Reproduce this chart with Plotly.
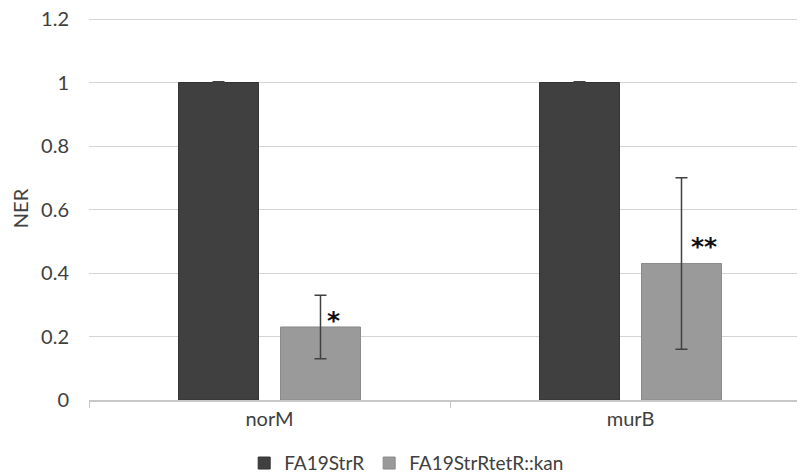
import plotly.graph_objects as go

categories = ["norM", "murB"]
strr_vals = [1.0, 1.0]
strr_err = [0.002, 0.002]
kan_vals = [0.23, 0.43]
kan_err = [0.10, 0.27]
sig_labels = ["*", "**"]
sig_y = [0.258, 0.49]
y_ticks = [0, 0.2, 0.4, 0.6, 0.8, 1, 1.2]

fig = go.Figure()
fig.add_trace(go.Bar(
    x=categories, y=strr_vals, name="FA19StrR",
    marker=dict(color="#404040", line=dict(color="#333333", width=1)),
    error_y=dict(type="data", array=strr_err, color="#404040", thickness=1.5, width=6),
))
fig.add_trace(go.Bar(
    x=categories, y=kan_vals, name="FA19StrRtetR::kan",
    marker=dict(color="#9a9a9a", line=dict(color="#8a8a8a", width=1)),
    error_y=dict(type="data", array=kan_err, color="#404040", thickness=1.5, width=6),
))

for i, (c, lab) in enumerate(zip(categories, sig_labels)):
    fig.add_annotation(
        x=c, y=sig_y[i], text="<b>" + lab + "</b>", showarrow=False,
        xref="x", yref="y", xshift=64 if len(lab) == 1 else 73, yshift=-2,
        font=dict(size=25, color="#111111", family="DejaVu Sans"),
    )

# page body has an 8px default margin: compensate so the plot lands where the reference has it
fig.update_layout(
    width=803, height=466,
    margin=dict(l=81, r=0, t=9, b=74, autoexpand=False),
    paper_bgcolor="white", plot_bgcolor="white",
    barmode="group", bargap=0.435, bargroupgap=0.216,
    font=dict(family="Lato, Open Sans, sans-serif", size=20, color="#404040"),
    legend=dict(orientation="h", x=0.44, xanchor="center", y=-0.165, yanchor="middle",
                font=dict(size=19, color="#404040"), traceorder="normal",
                itemwidth=30),
    showlegend=True,
)
fig.update_xaxes(
    automargin=False,
    showline=True, linecolor="#c8c8c8", linewidth=1.5,
    ticks="outside", tickson="boundaries", ticklen=6, tickcolor="#c8c8c8",
    showgrid=False, tickfont=dict(size=20, color="#404040"),
)
fig.update_yaxes(
    automargin=False,
    range=[0, 1.2063], tickvals=y_ticks, ticktext=["0", "0.2", "0.4", "0.6", "0.8", "1", "1.2"],
    showgrid=True, gridcolor="#d4d4d4", gridwidth=1.2, zeroline=False, showline=False,
    title=dict(text="NER", font=dict(size=20, color="#404040"), standoff=8),
    tickfont=dict(size=20, color="#404040"), ticklen=0, ticks="", ticklabelstandoff=19,
    ticklabeloverflow="allow",
)
fig.write_html("out.html")
